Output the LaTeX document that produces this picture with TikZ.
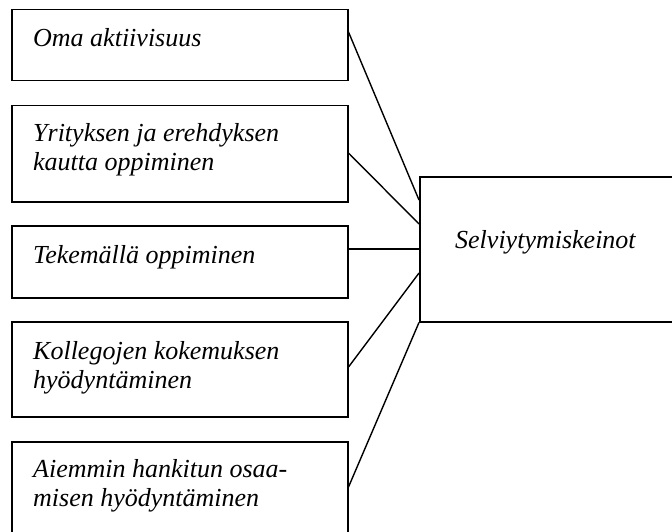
\documentclass[tikz,border=0pt]{standalone}
\usepackage{fontspec}
\setmainfont{Liberation Serif}
\usetikzlibrary{calc}
\tikzset{
  box/.style={draw, line width=1.5pt, rectangle, anchor=north west, inner sep=0pt},
  lbl/.style={anchor=base west, inner sep=0pt, font=\fontsize{26}{29}\selectfont\itshape},
  link/.style={line width=1.4pt}
}
\begin{document}
\begin{tikzpicture}[x=1pt, y=-1pt]
  \useasboundingbox (0,0) rectangle (672,532);
  \clip (0,0) rectangle (672,532);

  % source boxes on the left
  \node[box, minimum width=336pt, minimum height=71pt] (b1) at (11,9) {};
  \node[box, minimum width=336pt, minimum height=96pt] (b2) at (11,105) {};
  \node[box, minimum width=336pt, minimum height=72pt] (b3) at (11,225) {};
  \node[box, minimum width=336pt, minimum height=95pt] (b4) at (11,321) {};
  \node[box, minimum width=336pt, minimum height=100pt] (b5) at (11,441) {};

  % target box on the right (runs past the page edge)
  \node[box, minimum width=280pt, minimum height=145pt] (goal) at (419,176) {};

  % box texts
  \node[lbl] (t1) at (33,47) {Oma aktiivisuus};
  \node[lbl] (t2a) at (33,142) {Yrityksen ja erehdyksen};
  \node[lbl] (t2b) at (33,171) {kautta oppiminen};
  \node[lbl] (t3) at (33,263) {Tekemällä oppiminen};
  \node[lbl] (t4a) at (33,359) {Kollegojen kokemuksen};
  \node[lbl] (t4b) at (33,388) {hyödyntäminen};
  \node[lbl] (t5a) at (33,477) {Aiemmin hankitun osaa-};
  \node[lbl] (t5b) at (33,506) {misen hyödyntäminen};
  \node[lbl] (tg) at (455,248) {Selviytymiskeinot};

  % connectors
  \draw[link] ($(b1.north east)+(0,23)$) -- ($(goal.north west)+(0,24)$);
  \draw[link] ($(b2.north east)+(0,48)$) -- ($(goal.north west)+(0,48)$);
  \draw[link] ($(b3.north east)+(0,24)$) -- ($(goal.north west)+(0,73)$);
  \draw[link] ($(b4.north east)+(0,46)$) -- ($(goal.north west)+(0,97)$);
  \draw[link] ($(b5.north east)+(0,46)$) -- (goal.south west);
\end{tikzpicture}
\end{document}
